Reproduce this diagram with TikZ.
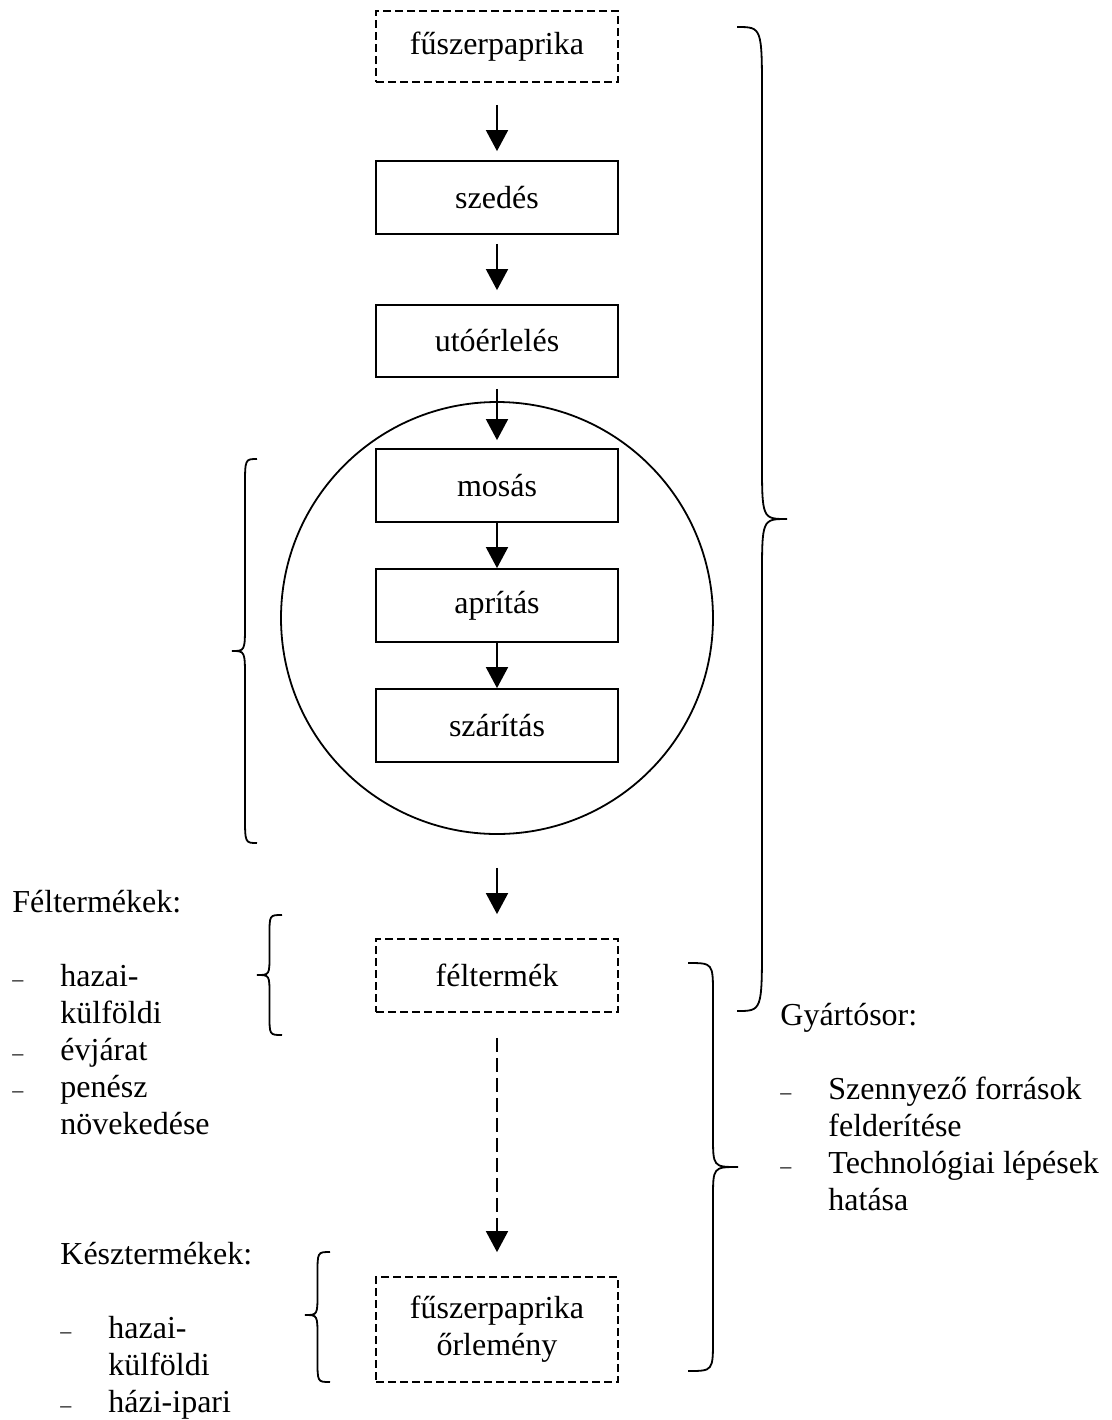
\documentclass[tikz,border=0pt]{standalone}
\usepackage{fontspec}
\setmainfont{Liberation Serif}
\usetikzlibrary{arrows.meta}
\begin{document}
\begin{tikzpicture}[x=0.5pt,y=-0.5pt,
  every node/.style={font=\fontsize{16pt}{18.5pt}\selectfont},
  stepbox/.style={draw, line width=0.9pt, minimum width=121pt, minimum height=36.5pt, inner sep=0pt, align=center},
  dashbox/.style={stepbox, dash pattern=on 4pt off 2pt},
  arr/.style={-{Triangle[length=10.5pt,width=11pt]}, line width=0.9pt},
  lbl/.style={anchor=base west, inner sep=0pt},
  dashmark/.style={anchor=base west, inner sep=0pt, font=\fontsize{11pt}{13pt}\selectfont},
  bracestyle/.style={line width=0.9pt}
]
\useasboundingbox (0,0) rectangle (1112,1420);

% grouping circle
\node[draw, circle, line width=0.9pt, minimum size=216pt, inner sep=0pt] (grp) at (497,618) {};

% process boxes
\node[dashbox, minimum height=35.5pt] (top) at (497,46.5) {fűszerpaprika};
\node[stepbox] (szedes) at (497,197.5) {szedés};
\node[stepbox, minimum height=36pt] (utoerl) at (497,341) {utóérlelés};
\node[stepbox] (mosas) at (497,485.5) {mosás};
\node[stepbox] (apritas) at (497,605.5) {aprítás};
\node[stepbox] (szaritas) at (497,725.5) {szárítás};
\node[dashbox] (felt) at (497,975.5) {féltermék};
\node[dashbox, minimum height=52.5pt] (final) at (497,1329.5) {fűszerpaprika\\őrlemény};

% arrows
\draw[arr, shorten <=11pt, shorten >=4.5pt] (top) -- (szedes);
\draw[arr, shorten <=4.5pt, shorten >=7pt] (szedes) -- (utoerl);
\draw[arr, shorten <=5.5pt, shorten >=4pt] (utoerl) -- (mosas);
\draw[arr] (mosas) -- (apritas);
\draw[arr] (apritas) -- (szaritas);
\draw[arr, shorten <=16.5pt, shorten >=12pt] (grp.south) -- (felt);
\draw[arr, dash pattern=on 7pt off 3pt, shorten <=12.5pt, shorten >=12pt] (felt) -- (final);

% braces
\draw[bracestyle] (257,459) .. controls (245,459) .. (245,487) -- (245,623)
  .. controls (245,651) .. (232,651) .. controls (245,651) .. (245,679)
  -- (245,815) .. controls (245,843) .. (257,843);
\draw[bracestyle] (282,915) .. controls (269.5,915) .. (269.5,935) -- (269.5,955)
  .. controls (269.5,975) .. (257,975) .. controls (269.5,975) .. (269.5,995)
  -- (269.5,1015) .. controls (269.5,1035) .. (282,1035);
\draw[bracestyle] (330,1252) .. controls (317.5,1252) .. (317.5,1274) -- (317.5,1293)
  .. controls (317.5,1315) .. (305,1315) .. controls (317.5,1315) .. (317.5,1337)
  -- (317.5,1360) .. controls (317.5,1382) .. (330,1382);
\draw[bracestyle] (737,27) .. controls (762,27) .. (762,97) -- (762,459)
  .. controls (762,519) .. (787,519) .. controls (762,519) .. (762,579)
  -- (762,941) .. controls (762,1011) .. (737,1011);
\draw[bracestyle] (688,963) .. controls (713,963) .. (713,995) -- (713,1135)
  .. controls (713,1167) .. (738,1167) .. controls (713,1167) .. (713,1199)
  -- (713,1339) .. controls (713,1371) .. (688,1371);

% left list: Féltermékek
\node[lbl] (hdrF) at (12,912) {Féltermékek:};
\node[dashmark] (dF1) at (12,986) {–};
\node[lbl] (tF1) at (60,986) {hazai-};
\node[lbl] (tF1b) at (60,1023) {külföldi};
\node[dashmark] (dF2) at (12,1060) {–};
\node[lbl] (tF2) at (60,1060) {évjárat};
\node[dashmark] (dF3) at (12,1097) {–};
\node[lbl] (tF3) at (60,1097) {penész};
\node[lbl] (tF3b) at (60,1134) {növekedése};

% left list: Késztermékek
\node[lbl] (hdrK) at (60,1264) {Késztermékek:};
\node[dashmark] (dK1) at (60,1338) {–};
\node[lbl] (tK1) at (108,1338) {hazai-};
\node[lbl] (tK1b) at (108,1375) {külföldi};
\node[dashmark] (dK2) at (60,1412) {–};
\node[lbl] (tK2) at (108,1412) {házi-ipari};

% right list: Gyártósor
\node[lbl] (hdrG) at (780,1025) {Gyártósor:};
\node[dashmark] (dG1) at (780,1099) {–};
\node[lbl] (tG1) at (828,1099) {Szennyező források};
\node[lbl] (tG1b) at (828,1136) {felderítése};
\node[dashmark] (dG2) at (780,1173) {–};
\node[lbl] (tG2) at (828,1173) {Technológiai lépések};
\node[lbl] (tG2b) at (828,1210) {hatása};
\end{tikzpicture}
\end{document}
